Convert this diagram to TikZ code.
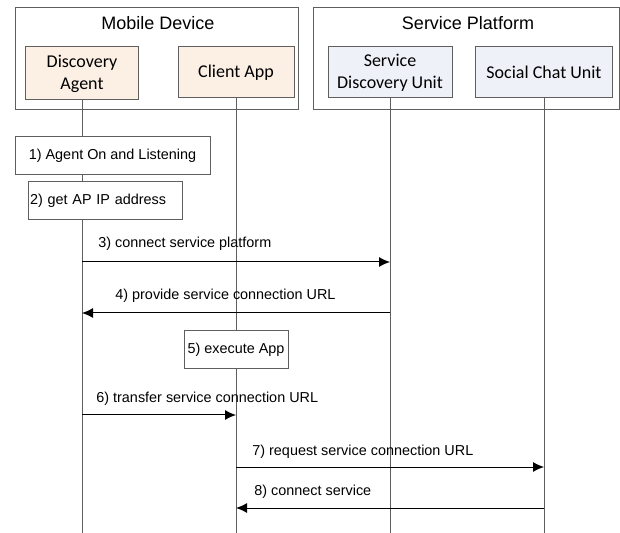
\documentclass[tikz,border=0pt]{standalone}
\usepackage{fontspec}
\setmainfont{Liberation Sans}
\newfontfamily\unitfont{Carlito}
\usetikzlibrary{arrows.meta}
\definecolor{agentfill}{RGB}{252,239,228}
\definecolor{platfill}{RGB}{238,242,248}
\definecolor{edgegray}{RGB}{95,95,95}
\tikzset{
  grp/.style={draw=edgegray, line width=0.5pt, minimum height=51pt, inner sep=0pt},
  grptitle/.style={inner sep=0pt, font=\fontsize{9}{11}\selectfont},
  unitbox/.style={draw=edgegray, line width=0.5pt, inner sep=0pt, align=center, font=\unitfont\fontsize{9}{11}\selectfont},
  stepbox/.style={draw=edgegray, fill=white, line width=0.5pt, inner sep=0pt, minimum height=19pt, font=\fontsize{7.2}{9}\selectfont},
  msglabel/.style={anchor=west, inner sep=0pt, font=\fontsize{7.2}{9}\selectfont},
  msg/.style={-{Latex[length=5.5pt,width=5pt]}, line width=0.5pt},
  lifeline/.style={draw=edgegray, line width=0.5pt}}

\begin{document}
\begin{tikzpicture}[x=0.5pt,y=-0.5pt]
\useasboundingbox (0,0) rectangle (620,533);

\node[grp, minimum width=141.5pt] (md) at (156.5,59) {};
\node[grptitle] (mdt) at (158,23) {Mobile Device};
\node[grp, minimum width=153pt] (sp) at (466,59) {};
\node[grptitle] (spt) at (468,23) {Service Platform};

\node[unitbox, fill=agentfill, minimum width=56.5pt, minimum height=26.5pt] (da) at (82,73.5) {Discovery\\Agent};
\node[unitbox, fill=agentfill, minimum width=58pt, minimum height=25.5pt] (ca) at (236,72.5) {Client App};
\node[unitbox, fill=platfill, minimum width=62pt, minimum height=25.5pt] (sdu) at (390,72.5) {Service\\Discovery Unit};
\node[unitbox, fill=platfill, minimum width=68.5pt, minimum height=25.5pt] (scu) at (544,72.5) {Social Chat Unit};

\coordinate (daend) at (82,533);
\coordinate (caend) at (236,533);
\coordinate (sduend) at (390,533);
\coordinate (scuend) at (544,533);
\draw[lifeline] (da.south) -- (daend);
\draw[lifeline] (ca.south) -- (caend);
\draw[lifeline] (sdu.south) -- (sduend);
\draw[lifeline] (scu.south) -- (scuend);

\node[stepbox, minimum width=97.5pt] (s1) at (112.5,155.5) {1) Agent On and Listening};
\node[stepbox, minimum width=77pt, text width=75pt, inner xsep=1pt, align=left] (s2) at (105,201) {2) get AP IP address};
\node[stepbox, minimum width=52pt] (s5) at (236,350) {5) execute App};

\coordinate (m3a) at (82,262);
\coordinate (m3b) at (390,262);
\draw[msg] (m3a) -- (m3b);
\node[msglabel] (l3) at (98,244) {3) connect service platform};

\coordinate (m4a) at (390,313);
\coordinate (m4b) at (82,313);
\draw[msg] (m4a) -- (m4b);
\node[msglabel] (l4) at (115,296) {4) provide service connection URL};

\coordinate (m6a) at (82,415);
\coordinate (m6b) at (236,415);
\draw[msg] (m6a) -- (m6b);
\node[msglabel] (l6) at (96,399) {6) transfer service connection URL};

\coordinate (m7a) at (236,467);
\coordinate (m7b) at (544,467);
\draw[msg] (m7a) -- (m7b);
\node[msglabel] (l7) at (252,452) {7) request service connection URL};

\coordinate (m8a) at (544,508);
\coordinate (m8b) at (236,508);
\draw[msg] (m8a) -- (m8b);
\node[msglabel] (l8) at (254,492) {8) connect service};
\end{tikzpicture}
\end{document}
